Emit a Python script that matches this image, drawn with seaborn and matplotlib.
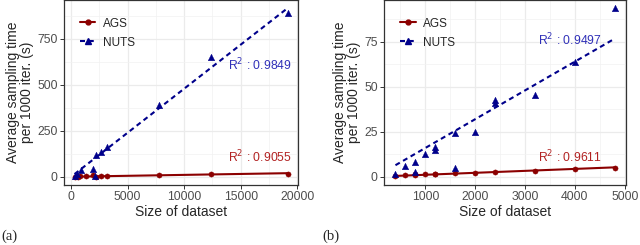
import numpy as np
import pandas as pd
import matplotlib
matplotlib.use("Agg")
import matplotlib.pyplot as plt
from matplotlib.lines import Line2D
from matplotlib.ticker import MultipleLocator
import seaborn as sns

# ---- data ----
# panel (a)
ags_a_x = [300, 600, 800, 1300, 1950, 2200, 2650, 3200, 7800, 12400, 19200]
ags_a_y = [0.5, 1, 4, 4, 7, 1, 3, 6, 10, 13, 17]
nuts_a_x = [300, 500, 900, 1900, 2100, 2200, 2650, 3200, 7800, 12400, 19200]
nuts_a_y = [4, 16, 36, 40, 6, 118, 136, 164, 390, 650, 890]
r2_a = {"AGS": "0.9055", "NUTS": "0.9849"}

# panel (b)
ags_b_x = [400, 600, 800, 800, 1000, 1200, 1200, 1600, 2000, 2400, 3200, 4000, 4800]
ags_b_y = [0.5, 0.8, 1.0, 1.6, 1.5, 1.7, 1.4, 1.8, 2.2, 2.5, 3.3, 4.3, 5.0]
nuts_b_x = [400, 600, 800, 800, 1000, 1200, 1200, 1600, 1600, 2000, 2400, 2400, 3200, 4000, 4800]
nuts_b_y = [1.5, 5.9, 8.0, 2.6, 12.4, 16.7, 14.8, 24.1, 5.0, 25.0, 42.6, 40.9, 45.2, 63.9, 93.5]
r2_b = {"AGS": "0.9611", "NUTS": "0.9497"}

sns.set_style("white")
plt.rcParams['font.family'] = ['Liberation Sans', 'DejaVu Sans']

ags_col = "#8B0000"
nuts_col = "#00008B"
ags_txt = "#B22222"
nuts_txt = "#3030B8"
dash = (0, (2.4, 1.8))

fig = plt.figure(figsize=(6.4, 2.45), dpi=100)
ax_a = fig.add_axes([64 / 640, 1 - 185 / 245, 234 / 640, 185 / 245])
ax_b = fig.add_axes([384 / 640, 1 - 185 / 245, 242 / 640, 185 / 245])


def origin_fit(x, y):
    # linear model without intercept (y ~ x - 1)
    x = np.asarray(x, float)
    y = np.asarray(y, float)
    slope = (x * y).sum() / (x * x).sum()
    xs = np.array([x.min(), x.max()])
    return pd.DataFrame({"x": xs, "y": slope * xs})


def draw_panel(ax, ax_x, ay, nx, ny, r2, xlim, ylim, xmaj, ymaj, r2_pos):
    df_ags = pd.DataFrame({"x": ax_x, "y": ay})
    df_nuts = pd.DataFrame({"x": nx, "y": ny})
    # fitted lines
    fit_n = origin_fit(nx, ny)
    fit_a = origin_fit(ax_x, ay)
    ax.plot(fit_n["x"], fit_n["y"], color=nuts_col, lw=1.5, ls=dash, zorder=3)
    sns.lineplot(data=fit_a, x="x", y="y", ax=ax, color=ags_col, lw=1.5, zorder=3)
    # points
    sns.scatterplot(data=df_ags, x="x", y="y", ax=ax, color=ags_col, marker="o",
                    s=14, edgecolor=ags_col, linewidth=0.3, zorder=4)
    sns.scatterplot(data=df_nuts, x="x", y="y", ax=ax, color=nuts_col, marker="^",
                    s=22, edgecolor=nuts_col, linewidth=0.3, zorder=4)

    ax.set_xlim(*xlim)
    ax.set_ylim(*ylim)
    ax.xaxis.set_major_locator(MultipleLocator(xmaj))
    ax.yaxis.set_major_locator(MultipleLocator(ymaj))
    ax.xaxis.set_minor_locator(MultipleLocator(xmaj / 2))
    ax.yaxis.set_minor_locator(MultipleLocator(ymaj / 2))
    ax.grid(which="major", color="#EBEBEB", lw=0.9)
    ax.grid(which="minor", color="#F2F2F2", lw=0.5)
    ax.set_axisbelow(True)
    for sp in ax.spines.values():
        sp.set_color("#333333")
        sp.set_linewidth(0.9)
    ax.tick_params(which="major", direction="out", length=3, width=0.7, color="#333333",
                   labelsize=8.8, labelcolor="#4D4D4D", pad=1.5, bottom=True, left=True)
    ax.tick_params(which="minor", length=0)
    ax.set_xlabel("Size of dataset", fontsize=10, labelpad=1.5)
    ax.set_ylabel("Average sampling time\nper 1000 iter. (s)", fontsize=10, labelpad=2,
                  linespacing=1.0)

    (nx_, ny_, nha), (ax_, ay_, aha) = r2_pos
    ax.text(nx_, ny_, "R$^2$ : " + r2["NUTS"], color=nuts_txt, fontsize=8.8,
            ha=nha, va="center")
    ax.text(ax_, ay_, "R$^2$ : " + r2["AGS"], color=ags_txt, fontsize=8.8,
            ha=aha, va="center")

    handles = [
        Line2D([], [], color=ags_col, lw=1.5, marker="o", ms=3.5),
        Line2D([], [], color=nuts_col, lw=1.5, ls=dash, marker="^", ms=4),
    ]
    ax.legend(handles, ["AGS", "NUTS"], loc="upper left", bbox_to_anchor=(0.033, 0.95),
              frameon=False, fontsize=8.5, handlelength=1.3, handletextpad=0.62,
              labelspacing=0.6, borderaxespad=0.3)


draw_panel(ax_a, ags_a_x, ags_a_y, nuts_a_x, nuts_a_y, r2_a,
           (-630, 20060), (-45, 962), 5000, 250,
           ((19500, 610, "right"), (19500, 106, "right")))
draw_panel(ax_b, ags_b_x, ags_b_y, nuts_b_x, nuts_b_y, r2_b,
           (170, 5025), (-4.6, 98.2), 1000, 25,
           ((3900, 76, "center"), (3900, 11.1, "center")))

fig.text(1 / 640, 1 - 236 / 245, "(a)", family=["Liberation Serif", "DejaVu Serif"],
         fontsize=10.5, va="center", ha="left")
fig.text(322 / 640, 1 - 236 / 245, "(b)", family=["Liberation Serif", "DejaVu Serif"],
         fontsize=10.5, va="center", ha="left")

fig.savefig("out.png", dpi=100)
